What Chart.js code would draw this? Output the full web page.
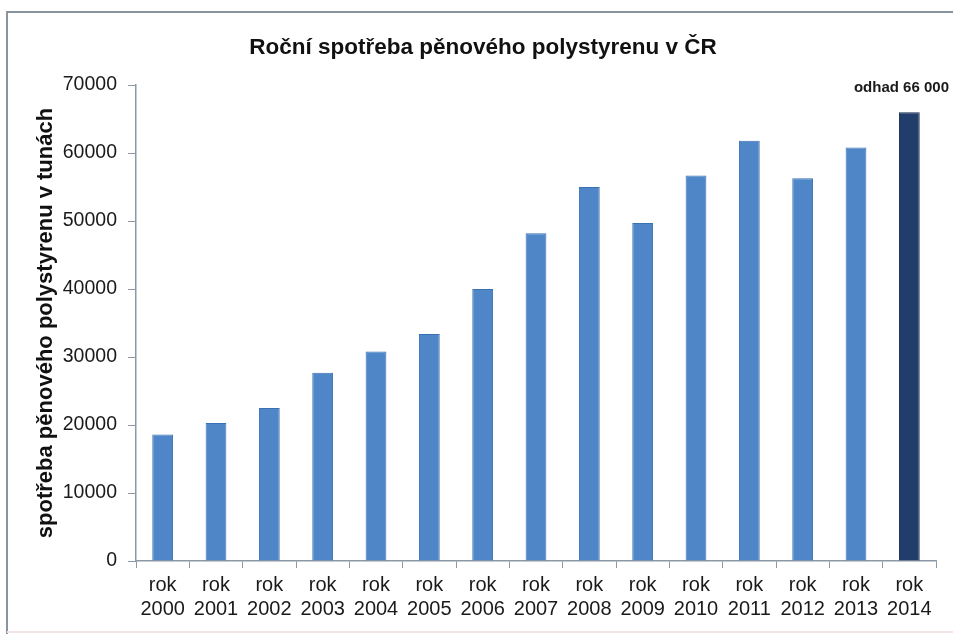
<!DOCTYPE html>
<html>
<head>
<meta charset="utf-8">
<script src="https://cdn.jsdelivr.net/npm/chart.js@4/dist/chart.umd.min.js"></script>
<style>
  html, body { margin: 0; padding: 0; background: #ffffff; }
  #wrap { position: relative; width: 953px; height: 637px; }
</style>
</head>
<body>
<div id="wrap"><canvas id="c" width="953" height="637"></canvas></div>
<script>
const titleText = 'Roční spotřeba pěnového polystyrenu v ČR';
const yAxisTitle = 'spotřeba pěnového polystyrenu v tunách';
const years = ['2000','2001','2002','2003','2004','2005','2006','2007','2008','2009','2010','2011','2012','2013','2014'];
const categories = years.map(y => ['rok', y]);
const consumption = [18600, 20300, 22500, 27700, 30800, 33400, 40000, 48200, 55000, 49700, 56700, 61800, 56300, 60800, 66000];
const estimateLabel = 'odhad 66 000';
const yTicks = [0, 10000, 20000, 30000, 40000, 50000, 60000, 70000];

const barColors = consumption.map((v, i) => i === consumption.length - 1 ? '#213d6b' : '#4f86c8');
const barBorders = consumption.map((v, i) => i === consumption.length - 1 ? '#142a4f' : '#3a70b5');

const framePlugin = {
  id: 'frame',
  beforeDraw(chart) {
    const ctx = chart.ctx;
    ctx.save();
    ctx.fillStyle = '#ffffff';
    ctx.fillRect(0, 0, chart.width, chart.height);
    ctx.strokeStyle = '#8a949d';
    ctx.lineWidth = 2;
    ctx.beginPath();
    ctx.moveTo(7, 634);
    ctx.lineTo(7, 12);
    ctx.lineTo(chart.width + 5, 12);
    ctx.stroke();
    ctx.strokeStyle = '#f3e6e4';
    ctx.beginPath();
    ctx.moveTo(7, 632);
    ctx.lineTo(chart.width, 632);
    ctx.stroke();
    ctx.restore();
  }
};

const estimatePlugin = {
  id: 'estimate',
  afterDatasetsDraw(chart) {
    const meta = chart.getDatasetMeta(0);
    const bar = meta.data[meta.data.length - 1];
    const ctx = chart.ctx;
    ctx.save();
    ctx.font = 'bold 15px "Liberation Sans", Arial, sans-serif';
    ctx.fillStyle = '#1a1a1a';
    ctx.textAlign = 'center';
    ctx.textBaseline = 'middle';
    const w = ctx.measureText(estimateLabel).width;
    let x = bar.x;
    if (x + w / 2 > chart.width - 4) x = chart.width - 4 - w / 2;
    ctx.fillText(estimateLabel, x, bar.y - 24);
    ctx.restore();
  }
};

new Chart(document.getElementById('c'), {
  type: 'bar',
  data: {
    labels: categories,
    datasets: [{
      data: consumption,
      backgroundColor: barColors,
      borderColor: barBorders,
      borderWidth: 1,
      barPercentage: 0.39,
      categoryPercentage: 1.0
    }]
  },
  options: {
    responsive: false,
    animation: false,
    layout: { padding: { left: 30, right: 17, top: 12, bottom: 0 } },
    plugins: {
      legend: { display: false },
      tooltip: { enabled: false },
      title: {
        display: true,
        text: titleText,
        color: '#111111',
        font: { family: '"Liberation Sans", Arial, sans-serif', size: 22.5, weight: 'bold' },
        padding: { top: 22, bottom: 24 }
      }
    },
    scales: {
      x: {
        grid: { display: true, drawOnChartArea: false, drawTicks: true, tickLength: 7, color: '#8c98a3', offset: true },
        border: { display: true, color: '#8c98a3', width: 1.5 },
        ticks: {
          color: '#1a1a1a',
          font: { family: '"Liberation Sans", Arial, sans-serif', size: 20, lineHeight: 1.2 },
          padding: 5,
          maxRotation: 0,
          autoSkip: false
        },
        afterFit(scale) { scale.height = 76; }
      },
      y: {
        min: 0,
        max: 70000,
        afterBuildTicks(scale) { scale.ticks = yTicks.map(v => ({ value: v })); },
        grid: { display: true, drawOnChartArea: false, drawTicks: true, tickLength: 8, color: '#8c98a3' },
        border: { display: true, color: '#8c98a3', width: 1.5 },
        ticks: {
          color: '#1a1a1a',
          font: { family: '"Liberation Sans", Arial, sans-serif', size: 19.5 },
          padding: 11,
          callback: v => String(v)
        },
        title: {
          display: true,
          text: yAxisTitle,
          color: '#111111',
          font: { family: '"Liberation Sans", Arial, sans-serif', size: 22, weight: 'bold' },
          padding: { top: 3, bottom: 4 }
        },
        afterFit(scale) { scale.width = 106; }
      }
    }
  },
  plugins: [framePlugin, estimatePlugin]
});
</script>
</body>
</html>
